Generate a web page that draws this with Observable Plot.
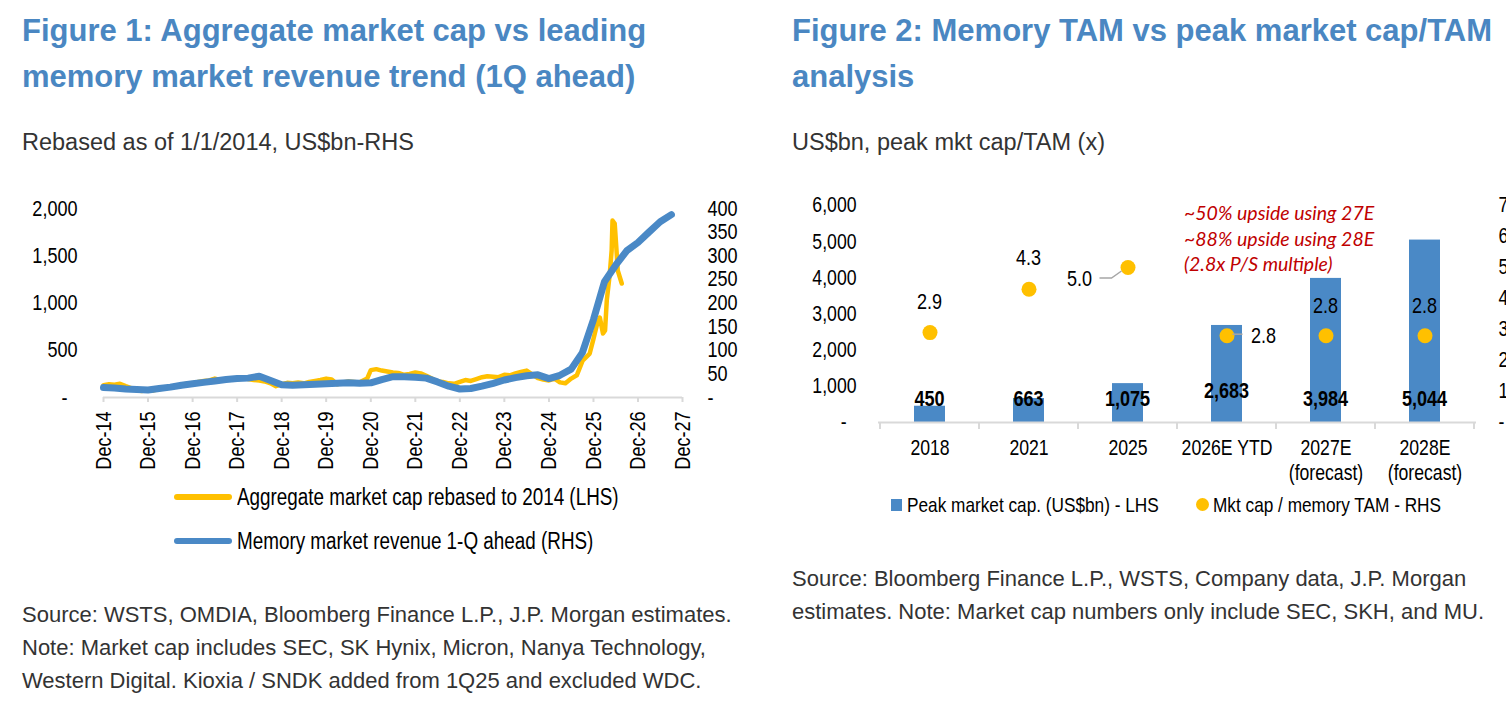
<!DOCTYPE html>
<html>
<head>
<meta charset="utf-8">
<script src="https://cdn.jsdelivr.net/npm/d3@7"></script>
<script src="https://cdn.jsdelivr.net/npm/@observablehq/plot@0.6"></script>
<style>
  html, body { margin: 0; padding: 0; background: #fff; }
  body { width: 1506px; height: 703px; overflow: hidden; position: relative; font-family: "Liberation Sans", Arial, sans-serif; }
  .abs { position: absolute; white-space: nowrap; }
  .title { font-weight: bold; font-size: 31px; line-height: 46px; color: #4a87c2; top: 8px; }
  .sub { font-size: 23.5px; line-height: 26px; color: #333; top: 129px; }
  .src { font-size: 22px; line-height: 33px; color: #333; }
  .narrow { transform: scaleX(0.82); transform-origin: left center; }
  .note { font-family: Lato, sans-serif; font-style: italic; font-size: 19.5px; line-height: 25.5px; color: #c00000; }
</style>
</head>
<body>
<div class="abs title" style="left:22px">Figure 1: Aggregate market cap vs leading<br>memory market revenue trend (1Q ahead)</div>
<div class="abs sub" style="left:22px">Rebased as of 1/1/2014, US$bn-RHS</div>
<div id="fig1" class="abs" style="left:0px; top:190px"></div>
<div id="leg1"></div>
<div class="abs src" style="left:22px; top:598px">Source: WSTS, OMDIA, Bloomberg Finance L.P., J.P. Morgan estimates.<br>Note: Market cap includes SEC, SK Hynix, Micron, Nanya Technology,<br>Western Digital. Kioxia / SNDK added from 1Q25 and excluded WDC.</div>

<div class="abs title" style="left:792px">Figure 2: Memory TAM vs peak market cap/TAM<br>analysis</div>
<div class="abs sub" style="left:792px">US$bn, peak mkt cap/TAM (x)</div>
<div id="fig2" class="abs" style="left:790px; top:190px"></div>
<div class="abs note" style="left:1184px; top:200px">~50% upside using 27E<br>~88% upside using 28E<br>(2.8x P/S multiple)</div>
<div id="leg2"></div>
<div class="abs src" style="left:792px; top:562px">Source: Bloomberg Finance L.P., WSTS, Company data, J.P. Morgan<br>estimates. Note: Market cap numbers only include SEC, SKH, and MU.</div>

<script>
// ---- Figure 1 data ----
// memory market revenue 1-Q ahead (US$bn, RHS)
const revDates = ["2014-12-01","2015-03-01","2015-06-01","2015-09-01","2015-12-01","2016-03-01","2016-06-01","2016-09-01",
  "2016-12-01","2017-03-01","2017-06-01","2017-09-01","2017-12-01","2018-03-01","2018-06-01","2018-09-01","2018-12-01",
  "2019-03-01","2019-06-01","2019-09-01","2019-12-01","2020-03-01","2020-06-01","2020-09-01","2020-12-01","2021-03-01",
  "2021-06-01","2021-09-01","2021-12-01","2022-03-01","2022-06-01","2022-09-01","2022-12-01","2023-03-01","2023-06-01",
  "2023-09-01","2023-12-01","2024-03-01","2024-06-01","2024-09-01","2024-12-01","2025-03-01","2025-06-01","2025-09-01",
  "2025-12-01","2026-03-01","2026-06-01","2026-09-01","2026-12-01","2027-03-01","2027-06-01","2027-09-01"];
const revValues = [21, 20, 18, 17, 16, 19, 22, 26,
  29, 32, 35, 38, 40, 41, 45, 36, 27,
  26, 27, 28, 29, 30, 31, 30, 31, 38,
  44, 44, 43, 41, 33, 24, 18, 19, 24,
  30, 37, 42, 46, 48, 40, 47, 60, 95,
  165, 245, 280, 311, 328, 350, 372, 387];

// aggregate market cap rebased to 2014 (LHS)
const capDates = ["2014-12-01","2015-01-15","2015-03-01","2015-04-15","2015-06-01","2015-07-15","2015-09-01","2015-10-15",
  "2015-12-01","2016-01-15","2016-03-01","2016-04-15","2016-06-01","2016-07-15","2016-09-01","2016-10-15","2016-12-01",
  "2017-01-15","2017-03-01","2017-04-15","2017-06-01","2017-07-15","2017-09-01","2017-10-15","2017-12-01","2018-01-15",
  "2018-03-01","2018-04-15","2018-06-01","2018-07-15","2018-09-01","2018-10-15","2018-12-01","2019-01-15","2019-03-01",
  "2019-04-15","2019-06-01","2019-07-15","2019-09-01","2019-10-15","2019-12-01","2020-01-15","2020-03-01","2020-04-15",
  "2020-06-01","2020-07-15","2020-09-01","2020-11-01","2020-12-01","2021-01-15","2021-03-01","2021-04-15","2021-06-01",
  "2021-07-15","2021-09-01","2021-10-15","2021-12-01","2022-01-15","2022-03-01","2022-04-15","2022-06-01","2022-07-15",
  "2022-09-01","2022-10-15","2022-12-01","2023-01-15","2023-03-01","2023-04-15","2023-06-01","2023-07-15","2023-09-01",
  "2023-10-15","2023-12-01","2024-01-15","2024-03-01","2024-04-15","2024-06-01","2024-07-15","2024-09-01","2024-10-15",
  "2024-12-01","2025-01-15","2025-03-01","2025-04-15","2025-06-01","2025-07-17","2025-09-03","2025-10-31","2025-12-01",
  "2026-01-01","2026-01-22","2026-02-17","2026-03-06","2026-03-20","2026-04-14","2026-04-29","2026-05-06","2026-05-24",
  "2026-06-08","2026-06-18","2026-07-21"];
const capValues = [130, 140, 135, 145, 120, 100, 75, 70,
  85, 75, 90, 95, 110, 120, 135, 145, 150,
  165, 175, 180, 200, 185, 195, 205, 190, 205,
  195, 185, 180, 170, 150, 120, 140, 155, 150,
  160, 150, 165, 175, 185, 200, 190, 140, 160,
  170, 165, 160, 200, 290, 300, 285, 275, 265,
  260, 240, 250, 265, 255, 230, 200, 170, 165,
  150, 145, 165, 185, 175, 195, 215, 225, 220,
  215, 240, 235, 255, 270, 285, 245, 205, 190,
  180, 200, 160, 150, 200, 235, 390, 465, 620,
  783, 846, 677, 709, 1026, 1312, 1555, 1873, 1841,
  1555, 1344, 1206];

const xTickDates = ["2014-12-01","2015-12-01","2016-12-01","2017-12-01","2018-12-01","2019-12-01","2020-12-01",
  "2021-12-01","2022-12-01","2023-12-01","2024-12-01","2025-12-01","2026-12-01","2027-12-01"];
const lhsTicks = [0, 500, 1000, 1500, 2000];
const rhsTicks = [0, 50, 100, 150, 200, 250, 300, 350, 400];
const rhsRatio = 2000 / 400;

const legend1 = ["Aggregate market cap rebased to 2014 (LHS)", "Memory market revenue 1-Q ahead (RHS)"];

// ---- Figure 2 data ----
const categories = ["2018", "2021", "2025", "2026E YTD", "2027E\n(forecast)", "2028E\n(forecast)"];
const peakCap = [450, 663, 1075, 2683, 3984, 5044];
const capToTam = [2.9, 4.3, 5.0, 2.8, 2.8, 2.8];
const lhs2Ticks = [0, 1000, 2000, 3000, 4000, 5000, 6000];
const rhs2Ticks = [0, 1, 2, 3, 4, 5, 6, 7];
const rhs2Ratio = 6000 / 7;
const legend2 = ["Peak market cap. (US$bn) - LHS", "Mkt cap / memory TAM - RHS"];

const BLUE = "#4a89c6";
const GOLD = "#ffc000";
const AXIS = "#d9d9d9";
const FONT = "'Liberation Sans', Arial, sans-serif";
const dash = v => v === 0 ? "-\u2007" : d3.format(",")(v);

// squeeze svg text to look like a narrow face (no narrow font installed)
function squeeze(svg, k) {
  svg.querySelectorAll("text").forEach(t => {
    const spans = t.querySelectorAll("tspan");
    (spans.length ? Array.from(spans) : [t]).forEach(s => {
      const len = s.getComputedTextLength();
      if (len > 0) {
        s.setAttribute("textLength", len * k);
        s.setAttribute("lengthAdjust", "spacingAndGlyphs");
      }
    });
  });
}

// ---- Figure 1 ----
const rev = revDates.map((d, i) => ({date: new Date(d), v: revValues[i]}));
const cap = capDates.map((d, i) => ({date: new Date(d), v: capValues[i]}));

const fig1 = Plot.plot({
  width: 760,
  height: 290,
  marginLeft: 103,
  marginRight: 78,
  marginTop: 18,
  marginBottom: 83,
  style: {fontFamily: FONT, fontSize: "22px", color: "#000", background: "transparent"},
  x: {type: "utc", domain: [new Date(xTickDates[0]), new Date(xTickDates[xTickDates.length - 1])]},
  y: {domain: [0, 2000]},
  marks: [
    Plot.ruleY([0], {stroke: AXIS, strokeWidth: 2}),
    Plot.axisX({ticks: xTickDates.map(d => new Date(d)), tickFormat: d3.utcFormat("%b-%y"), tickRotate: -90,
      tickSize: 5, tickPadding: 9, stroke: AXIS, strokeWidth: 2, fill: "#000", label: null}),
    Plot.axisY({ticks: lhsTicks, tickSize: 0, tickPadding: 26, tickFormat: dash, label: null}),
    Plot.axisY({anchor: "right", ticks: rhsTicks.map(v => v * rhsRatio), tickSize: 0, tickPadding: 25,
      tickFormat: v => v === 0 ? "-" : v / rhsRatio, label: null}),
    Plot.line(cap, {x: "date", y: "v", stroke: GOLD, strokeWidth: 4.5, strokeLinejoin: "round"}),
    Plot.line(rev, {x: "date", y: d => d.v * rhsRatio, stroke: BLUE, strokeWidth: 7, strokeLinejoin: "round", strokeLinecap: "round"})
  ]
});
document.getElementById("fig1").append(fig1);
squeeze(fig1, 0.82);

// legend 1
const leg1 = document.getElementById("leg1");
[GOLD, BLUE].forEach((c, i) => {
  const top = 497 + i * 44;
  leg1.insertAdjacentHTML("beforeend",
    `<div class="abs" style="left:174px; top:${top - 3}px; width:58px; height:6px; background:${c}; border-radius:3px"></div>` +
    `<div class="abs narrow" style="left:237px; top:${top - 13}px; line-height:26px; font-size:23px">${legend1[i]}</div>`);
});

// ---- Figure 2 ----
const rows = categories.map((c, i) => ({cat: c, cap: peakCap[i], ratio: capToTam[i]}));
const labelDy = c => c === "2026E YTD" ? -32 : -24;
const ratioPos = {
  "2018": {dx: 0, dy: -31}, "2021": {dx: 0, dy: -31}, "2025": {dx: -48, dy: 11},
  "2026E YTD": {dx: 37, dy: 0}, "2027E\n(forecast)": {dx: 0, dy: -30}, "2028E\n(forecast)": {dx: 0, dy: -30}
};

const fig2 = Plot.plot({
  width: 716,
  height: 300,
  marginLeft: 88,
  marginRight: 30,
  marginTop: 15,
  marginBottom: 68,
  style: {fontFamily: FONT, fontSize: "21.5px", color: "#000", background: "transparent", overflow: "visible"},
  x: {domain: categories, padding: 0},
  y: {domain: [0, 6000]},
  marks: [
    Plot.barY(rows, {x: "cat", y: "cap", fill: BLUE, insetLeft: 34, insetRight: 34}),
    Plot.ruleY([0], {stroke: AXIS, strokeWidth: 2}),
    Plot.axisX({tickSize: 0, tickPadding: 14, lineHeight: 1.18, label: null}),
    Plot.axisY({ticks: lhs2Ticks, tickSize: 0, tickPadding: 22, tickFormat: dash, label: null}),
    Plot.axisY({anchor: "right", ticks: rhs2Ticks.map(v => v * rhs2Ratio), tickSize: 0, tickPadding: 22,
      tickFormat: v => Math.round(v / rhs2Ratio) === 0 ? "-" : Math.round(v / rhs2Ratio), label: null}),
    Plot.dot(rows, {x: "cat", y: d => d.ratio * rhs2Ratio, r: 7.5, fill: GOLD, stroke: "none"})
  ]
});
document.getElementById("fig2").append(fig2);

// bar value labels, ratio labels and leader lines, placed through the plot's scales
{
  const sx = fig2.scale("x"), sy = fig2.scale("y");
  const svg = d3.select(fig2);
  const cx = c => sx.apply(c) + sx.bandwidth / 2;
  const g = svg.append("g").attr("font-family", FONT);
  rows.forEach(d => {
    g.append("text").attr("x", cx(d.cat)).attr("y", sy.apply(0) + labelDy(d.cat))
      .attr("text-anchor", "middle").attr("dy", "0.35em").attr("font-weight", "bold").attr("font-size", 22)
      .text(d3.format(",")(d.cap));
    const p = ratioPos[d.cat];
    const px = cx(d.cat), py = sy.apply(d.ratio * rhs2Ratio);
    g.append("text").attr("x", px + p.dx).attr("y", py + p.dy)
      .attr("text-anchor", "middle").attr("dy", "0.35em").attr("font-size", 22)
      .text(d3.format(".1f")(d.ratio));
  });
  const p25x = cx("2025"), p25y = sy.apply(capToTam[2] * rhs2Ratio);
  g.append("polyline").attr("fill", "none").attr("stroke", "#a6a6a6").attr("stroke-width", 1.5)
    .attr("points", `${p25x - 6},${p25y + 4} ${p25x - 16},${p25y + 11} ${p25x - 28},${p25y + 11}`);
  const p26x = cx("2026E YTD"), p26y = sy.apply(capToTam[3] * rhs2Ratio);
  g.append("line").attr("stroke", "#a6a6a6").attr("stroke-width", 1.5)
    .attr("x1", p26x + 6).attr("x2", p26x + 16).attr("y1", p26y - 1).attr("y2", p26y - 1);
  // category boundary ticks under the axis
  const y0 = sy.apply(0);
  const edges = categories.map(c => sx.apply(c)).concat([sx.apply(categories[categories.length - 1]) + sx.bandwidth]);
  edges.forEach(x => g.append("line").attr("stroke", AXIS).attr("stroke-width", 2)
    .attr("x1", x).attr("x2", x).attr("y1", y0).attr("y2", y0 + 7));
}
squeeze(fig2, 0.82);

// legend 2
document.getElementById("leg2").insertAdjacentHTML("beforeend",
  `<div class="abs" style="left:891px; top:499px; width:11px; height:12px; background:${BLUE}"></div>` +
  `<div class="abs narrow" style="left:907px; top:492px; line-height:26px; font-size:21px">${legend2[0]}</div>` +
  `<div class="abs" style="left:1196px; top:498px; width:13px; height:13px; border-radius:50%; background:${GOLD}"></div>` +
  `<div class="abs narrow" style="left:1213px; top:492px; line-height:26px; font-size:21px">${legend2[1]}</div>`);
</script>
</body>
</html>
